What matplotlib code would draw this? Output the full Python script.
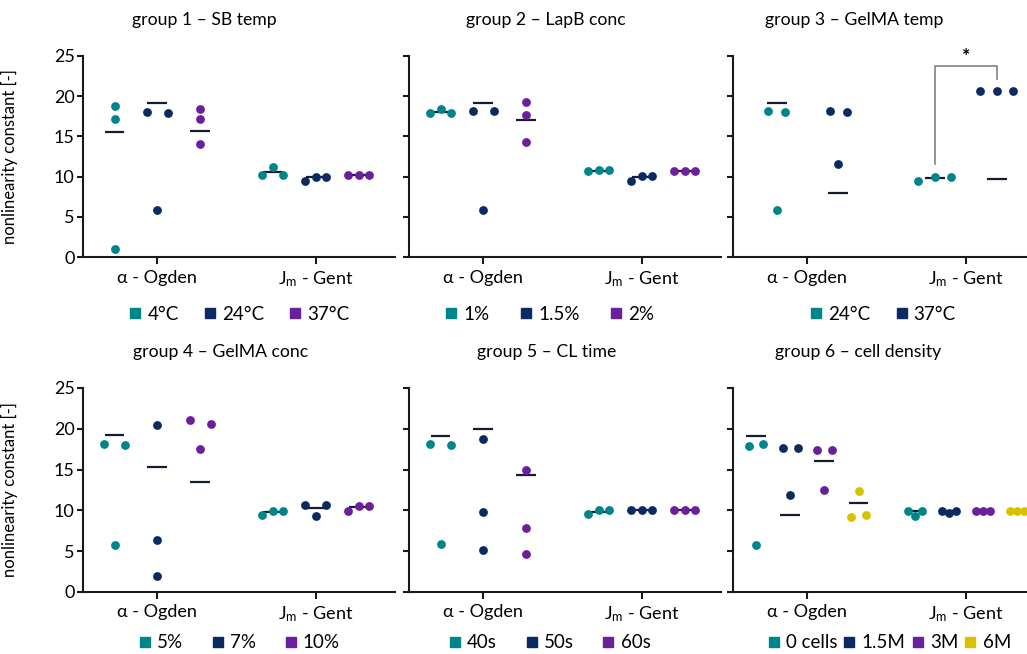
import numpy as np
import matplotlib
matplotlib.use("Agg")
import matplotlib.pyplot as plt
from matplotlib.lines import Line2D

plt.rcParams['font.family'] = ['Lato', 'Open Sans', 'DejaVu Sans']
plt.rcParams['mathtext.fontset'] = 'custom'
plt.rcParams['mathtext.rm'] = 'Lato'
plt.rcParams['mathtext.it'] = 'Lato:italic'
plt.rcParams['font.size'] = 11

# ---- data -------------------------------------------------------------
categories = ['α - Ogden', r'J$_\mathrm{m}$ - Gent']
titles = ['group 1 – SB temp', 'group 2 – LapB conc', 'group 3 – GelMA temp',
          'group 4 – GelMA conc', 'group 5 – CL time', 'group 6 – cell density']
legend_labels = [['4°C', '24°C', '37°C'],
                 ['1%', '1.5%', '2%'],
                 ['24°C', '37°C'],
                 ['5%', '7%', '10%'],
                 ['40s', '50s', '60s'],
                 ['0 cells', '1.5M', '3M', '6M']]

g1_ogden = [[18.8, 17.2, 1.0], [18.05, 5.85, 17.95], [18.4, 17.2, 14.0]]
g1_ogden_line = [15.5, 19.1, 15.7]
g1_gent = [[10.2, 11.2, 10.2], [9.4, 10.0, 10.0], [10.2, 10.2, 10.2]]
g1_gent_line = [10.55, 9.9, 10.2]

g2_ogden = [[17.9, 18.4, 17.9], [18.2, 5.9, 18.1], [19.3, 17.7, 14.35]]
g2_ogden_line = [18.0, 19.1, 17.1]
g2_gent = [[10.65, 10.85, 10.8], [9.5, 10.05, 10.05], [10.75, 10.75, 10.75]]
g2_gent_line = [10.75, 9.9, 10.75]

g3_ogden = [[18.15, 5.8, 18.05], [18.15, 11.6, 18.05]]
g3_ogden_line = [19.2, 8.0]
g3_gent = [[9.45, 9.95, 9.95], [20.7, 20.7, 20.7]]
g3_gent_line = [9.85, 9.65]

g4_ogden = [[18.15, 5.8, 18.05], [20.45, 6.4, 2.0], [21.1, 17.55, 20.55]]
g4_ogden_line = [19.25, 15.35, 13.5]
g4_gent = [[9.45, 9.95, 9.95], [10.65, 9.35, 10.65], [9.9, 10.6, 10.6]]
g4_gent_line = [9.8, 10.25, 10.4]

g5_ogden = [[18.15, 5.85, 18.0], [18.75, 9.75, 5.2], [15.0, 7.8, 4.6]]
g5_ogden_line = [19.15, 20.0, 14.3]
g5_gent = [[9.5, 10.0, 10.0], [10.1, 10.1, 10.1], [10.1, 10.1, 10.1]]
g5_gent_line = [9.75, 10.1, 10.1]

g6_ogden = [[17.95, 5.8, 18.1], [17.65, 11.85, 17.7], [17.45, 12.45, 17.45], [9.25, 12.4, 9.4]]
g6_ogden_line = [19.15, 9.4, 16.05, 10.85]
g6_gent = [[9.9, 9.35, 9.9], [9.9, 9.7, 9.9], [9.9, 9.9, 9.9], [9.9, 9.9, 9.9]]
g6_gent_line = [9.9, 9.9, 9.9, 9.9]

# significance bracket in group 3 (J_m - Gent, 24°C vs 37°C)
sig_left_y, sig_top_y, sig_right_y = 11.6, 23.8, 22.2

panels = [(g1_ogden, g1_ogden_line, g1_gent, g1_gent_line),
          (g2_ogden, g2_ogden_line, g2_gent, g2_gent_line),
          (g3_ogden, g3_ogden_line, g3_gent, g3_gent_line),
          (g4_ogden, g4_ogden_line, g4_gent, g4_gent_line),
          (g5_ogden, g5_ogden_line, g5_gent, g5_gent_line),
          (g6_ogden, g6_ogden_line, g6_gent, g6_gent_line)]

colors = ['#00858a', '#0c2a62', '#6a1f9c', '#d8c200']
line_color = '#141c33'

# ---- layout -----------------------------------------------------------
W, H = 1027, 654
lefts = [83, 409, 733]
ax_w = 312
rows = [(56, 257), (388, 592)]          # top, bottom in px
legend_drop = [57, 51]                  # px below each row
group_step = {2: 0.39, 3: 0.271, 4: 0.215}
spread = [{2: 0.066, 3: 0.066}, {2: 0.066, 3: 0.066}, {2: 0.054, 3: 0.104},
          {2: 0.066, 3: 0.066}, {2: 0.066, 3: 0.066}, {2: 0.045, 3: 0.045}]
title_x = [0.39, 0.44, 0.39, 0.44, 0.44, 0.40]
legend_x = [0.5, 0.45, 0.48, 0.5, 0.45, 0.5]
legend_spacing = [1.3, 1.6, 1.3, 1.5, 1.5, 0.3]


def swarm(vals, half):
    """spread points that would overlap vertically"""
    vals = np.asarray(vals)
    order = np.argsort(vals)
    clusters, cur = [], [order[0]]
    for a, b in zip(order[:-1], order[1:]):
        if vals[b] - vals[a] < 1.0:
            cur.append(b)
        else:
            clusters.append(cur)
            cur = [b]
    clusters.append(cur)
    off = np.zeros(len(vals))
    for c in clusters:
        if len(c) > 1:
            c = sorted(c)
            off[c] = np.linspace(-half[len(c)], half[len(c)], len(c))
    return off


fig = plt.figure(figsize=(W / 100, H / 100), dpi=100)
for i, (ogden, ogden_line, gent, gent_line) in enumerate(panels):
    r, c = divmod(i, 3)
    top, bot = rows[r]
    ax = fig.add_axes([lefts[c] / W, 1 - bot / H, ax_w / W, (bot - top) / H])
    n = len(ogden)
    offs = (np.arange(n) - (n - 1) / 2) * group_step[n]
    for xc, groups, lines in [(1, ogden, ogden_line), (2, gent, gent_line)]:
        for k in range(n):
            xs = xc + offs[k] + swarm(groups[k], spread[i])
            ax.plot([xc + offs[k] - 0.063, xc + offs[k] + 0.063], [lines[k]] * 2,
                    color=line_color, lw=1.6, zorder=2, solid_capstyle='butt')
            ax.scatter(xs, groups[k], s=40, color=colors[k], zorder=3,
                       linewidths=0, clip_on=False)

    ax.set_xlim(0.53, 2.5)
    ax.set_ylim(0, 25)
    ax.set_xticks([1, 2])
    ax.set_xticklabels(categories, fontsize=13)
    ax.set_yticks(range(0, 26, 5))
    for s in ['top', 'right']:
        ax.spines[s].set_visible(False)
    for s in ['left', 'bottom']:
        ax.spines[s].set_linewidth(1.5)
        ax.spines[s].set_color('#1a1a1a')
    ax.tick_params(axis='both', width=1.5, color='#1a1a1a')
    ax.tick_params(axis='y', length=4, pad=2, labelsize=13)
    ax.tick_params(axis='x', length=5, pad=4)
    if c == 0:
        ax.set_ylabel('nonlinearity constant [-]', fontsize=12)
        ax.yaxis.set_label_coords(-65 / ax_w, 0.5)
    else:
        ax.tick_params(axis='y', labelleft=False)

    ax.text(title_x[i], 1 + 36 / (bot - top), titles[i], transform=ax.transAxes,
            ha='center', va='center', fontsize=12.7)

    handles = [Line2D([], [], marker='s', ls='', color=colors[k], markersize=7.5)
               for k in range(n)]
    ax.legend(handles, legend_labels[i], loc='center', ncol=n,
              bbox_to_anchor=(legend_x[i], -legend_drop[r] / (bot - top)), frameon=False,
              handlelength=0.7, handletextpad=0.3, columnspacing=legend_spacing[i],
              fontsize=13.5, borderaxespad=0, borderpad=0)

    if i == 2:
        xl, xr = 2 + offs[0], 2 + offs[1]
        ax.plot([xl, xl, xr, xr], [sig_left_y, sig_top_y, sig_top_y, sig_right_y],
                color='#808080', lw=1.2, clip_on=False, zorder=1)
        ax.text(2, 24.9, '*', ha='center', va='center', fontsize=14,
                fontweight='bold', clip_on=False)

fig.savefig('out.png', dpi=100)
